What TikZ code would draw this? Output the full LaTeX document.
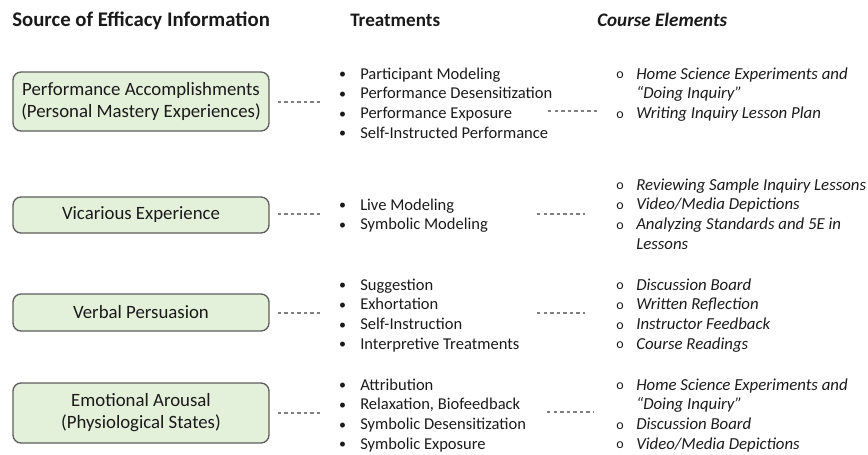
\documentclass[tikz,border=0pt]{standalone}
\usepackage{fontspec}
\setmainfont{Carlito}
\definecolor{ink}{HTML}{1A1A1A}
\definecolor{boxfill}{HTML}{E3F0DA}
\definecolor{boxline}{HTML}{5E5E5E}
\definecolor{dashgray}{HTML}{808080}
% bullet markers for the two lists
\newcommand\tb{\makebox[16.5pt][l]{\hspace{0.6pt}\raisebox{0.3pt}{\fontsize{10.5}{12}\selectfont\textbullet}}}
\newcommand\cb{\makebox[15pt][l]{\raisebox{0.2pt}{\upshape\fontsize{10.5}{12}\selectfont o}}}
\newcommand\cind{\hspace{15pt}}
\begin{document}
\begin{tikzpicture}[x=0.75pt,y=-0.75pt,
  every node/.style={text=ink, inner sep=0pt},
  srcbox/.style={draw=boxline, line width=1pt, fill=boxfill, rounded corners=6pt,
    minimum width=192pt, align=center, font=\fontsize{14.1}{16.5}\selectfont},
  head/.style={anchor=base west, font=\fontsize{14.3}{16}\selectfont\bfseries},
  treat/.style={anchor=base west, font=\fontsize{12.4}{14.8}\selectfont},
  elem/.style={anchor=base west, font=\fontsize{12.6}{14.8}\selectfont\itshape},
  link/.style={draw=dashgray, line width=0.8pt, dash pattern=on 2.6pt off 2.3pt}]
\useasboundingbox (0,0) rectangle (868,454);

% column headings
\node[head, font=\fontsize{15.6}{17}\selectfont\bfseries] (h1) at (12,26) {Source of Efficacy Information};
\node[head] (h2) at (350,26) {Treatments};
\node[head] (h3) at (597,26) {\itshape Course Elements};

% sources of efficacy information
\node[srcbox, minimum height=44.25pt] (s1) at (141,101.5) {Performance Accomplishments\\(Personal Mastery Experiences)};
\node[srcbox, minimum height=27pt] (s2) at (141,215) {Vicarious Experience};
\node[srcbox, minimum height=27.75pt] (s3) at (141,312.5) {Verbal Persuasion};
\node[srcbox, minimum height=45pt] (s4) at (141,413) {Emotional Arousal\\(Physiological States)};

% treatments
\foreach \t [count=\i] in {Participant Modeling, Performance Desensitization, Performance Exposure, Self-Instructed Performance}
  \node[treat] (t1-\i) at (338, 79+19.7*\i-19.7) {\tb\t};
\foreach \t [count=\i] in {Live Modeling, Symbolic Modeling}
  \node[treat] (t2-\i) at (338, 210+19.7*\i-19.7) {\tb\t};
\foreach \t [count=\i] in {Suggestion, Exhortation, Self-Instruction, Interpretive Treatments}
  \node[treat] (t3-\i) at (338, 290+19.7*\i-19.7) {\tb\t};
\foreach \t [count=\i] in {Attribution, {Relaxation, Biofeedback}, Symbolic Desensitization, Symbolic Exposure}
  \node[treat] (t4-\i) at (338, 390+19.7*\i-19.7) {\tb\t};

% course elements
\foreach \t [count=\i] in {{\cb Home Science Experiments and}, {\cind “Doing Inquiry”}, {\cb Writing Inquiry Lesson Plan}}
  \node[elem] (c1-\i) at (616, 79+19.7*\i-19.7) {\t};
\foreach \t [count=\i] in {{\cb Reviewing Sample Inquiry Lessons}, {\cb Video/Media Depictions}, {\cb Analyzing Standards and 5E in}, {\cind Lessons}}
  \node[elem] (c2-\i) at (616, 190+19.7*\i-19.7) {\t};
\foreach \t [count=\i] in {{\cb Discussion Board}, {\cb Written Reflection}, {\cb Instructor Feedback}, {\cb Course Readings}}
  \node[elem] (c3-\i) at (616, 290+19.7*\i-19.7) {\t};
\foreach \t [count=\i] in {{\cb Home Science Experiments and}, {\cind “Doing Inquiry”}, {\cb Discussion Board}, {\cb Video/Media Depictions}}
  \node[elem] (c4-\i) at (616, 390+19.7*\i-19.7) {\t};

% dashed links: source -> treatments -> course elements
\coordinate (a1) at (323,102);
\coordinate (a2) at (323,214);
\coordinate (a3) at (323,313);
\coordinate (a4) at (323,413);
\coordinate (b1) at (548,111); \coordinate (e1) at (597,111);
\coordinate (b2) at (537,214); \coordinate (e2) at (585,214);
\coordinate (b3) at (537,313); \coordinate (e3) at (585,313);
\coordinate (b4) at (547,412); \coordinate (e4) at (593,412);
\foreach \k in {1,...,4} {
  \draw[link] (s\k.east |- a\k) ++(6pt,0) -- (a\k);
  \draw[link] (b\k) -- (e\k);
}
\end{tikzpicture}
\end{document}
